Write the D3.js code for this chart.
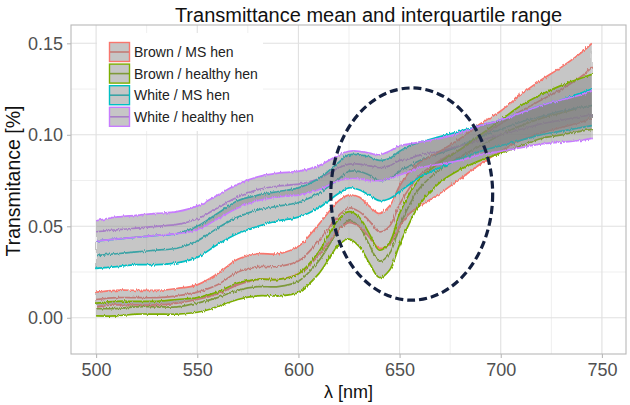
<!DOCTYPE html>
<html><head><meta charset="utf-8">
<script src="https://cdn.jsdelivr.net/npm/d3@7"></script>
<style>body{margin:0;background:#fff}svg{display:block;font-family:"Liberation Sans",Arial,sans-serif}</style>
</head><body><svg id="c" width="630" height="405"></svg>
<script>
// ---- data ----
const wavelength = [500,510,520,530,540,550,560,570,580,590,600,610,620,625,630,635,640,645,650,655,660,670,680,690,700,710,720,730,740,745];
const groups = ["Brown / MS hen","Brown / healthy hen","White / MS hen","White / healthy hen"];
const colors = ["#F8766D","#7CAE00","#00BFC4","#C77CFF"];

const brownMS_upper = [.014,.015,.015,.015,.016,.018,.024,.032,.035,.035,.039,.051,.064,.067,.066,.061,.057,.061,.072,.080,.085,.091,.098,.106,.113,.122,.130,.137,.145,.150];
const brownMS_mean  = [.010,.011,.011,.011,.012,.014,.018,.025,.028,.028,.031,.042,.056,.060,.058,.053,.047,.050,.062,.071,.078,.086,.092,.099,.106,.113,.119,.125,.132,.137];
const brownMS_lower = [.006,.007,.007,.007,.008,.010,.013,.018,.021,.021,.024,.034,.048,.052,.050,.044,.038,.040,.050,.057,.061,.068,.076,.084,.091,.097,.101,.104,.107,.109];

const brownH_upper = [.008,.009,.009,.009,.010,.011,.014,.019,.021,.021,.024,.036,.054,.058,.055,.046,.037,.041,.057,.068,.076,.085,.092,.100,.108,.116,.122,.127,.131,.133];
const brownH_mean  = [.005,.005,.006,.006,.006,.008,.011,.015,.017,.017,.020,.031,.048,.053,.050,.040,.031,.035,.050,.062,.071,.081,.088,.094,.100,.105,.109,.112,.115,.116];
const brownH_lower = [.001,.001,.002,.002,.002,.003,.006,.010,.012,.012,.014,.024,.040,.043,.039,.030,.022,.026,.040,.052,.062,.074,.081,.086,.090,.094,.098,.100,.102,.103];

const whiteMS_upper = [.042,.043,.044,.045,.046,.050,.057,.064,.067,.069,.071,.076,.085,.089,.089,.088,.086,.087,.091,.094,.096,.099,.102,.105,.108,.112,.116,.119,.123,.125];
const whiteMS_mean  = [.034,.035,.036,.037,.038,.042,.049,.055,.059,.061,.063,.068,.076,.080,.080,.078,.075,.076,.080,.083,.086,.090,.094,.099,.103,.107,.110,.113,.115,.116];
const whiteMS_lower = [.027,.028,.029,.029,.030,.033,.040,.046,.050,.053,.055,.060,.068,.071,.070,.067,.064,.065,.069,.073,.077,.082,.087,.091,.094,.097,.100,.102,.104,.105];

const whiteH_upper = [.053,.055,.056,.057,.058,.061,.067,.073,.077,.079,.080,.083,.089,.091,.091,.090,.089,.091,.094,.095,.096,.098,.101,.105,.108,.112,.116,.119,.122,.124];
const whiteH_mean  = [.047,.048,.049,.050,.051,.054,.060,.066,.070,.072,.073,.076,.082,.084,.084,.083,.082,.083,.086,.087,.089,.091,.094,.097,.100,.103,.106,.108,.110,.111];
const whiteH_lower = [.042,.043,.044,.045,.046,.048,.054,.060,.064,.066,.067,.070,.075,.076,.076,.075,.075,.076,.078,.080,.082,.084,.086,.089,.091,.093,.095,.096,.097,.098];

const xTicks = [500,550,600,650,700,750];
const xMinor = [525,575,625,675,725];
const yTicks = [0,0.05,0.10,0.15];
const yMinor = [0.025,0.075,0.125];
const highlight = {cx:656, cy:0.0676, rx:40, ry:0.058};

const series = [
  {lower:brownMS_lower, mean:brownMS_mean, upper:brownMS_upper},
  {lower:brownH_lower,  mean:brownH_mean,  upper:brownH_upper},
  {lower:whiteMS_lower, mean:whiteMS_mean, upper:whiteMS_upper},
  {lower:whiteH_lower,  mean:whiteH_mean,  upper:whiteH_upper}
];

// ---- layout ----
const svg = d3.select("#c");
const x = d3.scaleLinear().domain([487.6,761.9]).range([71,626]);
const y = d3.scaleLinear().domain([-0.0198,0.160]).range([354,25]);
const [X0,X1] = x.range(), [Y1,Y0] = y.range();

const defs = svg.append("defs");
defs.append("clipPath").attr("id","clip")
  .append("rect").attr("x",X0).attr("y",Y0).attr("width",X1-X0).attr("height",Y1-Y0);
// visual texture for the measured (noisy) spectra
const f = defs.append("filter").attr("id","rough").attr("x",0).attr("y",0).attr("width",630).attr("height",405)
  .attr("filterUnits","userSpaceOnUse");
f.append("feTurbulence").attr("type","fractalNoise").attr("baseFrequency","0.9 0.08").attr("numOctaves",2).attr("seed",3).attr("result","n");
f.append("feDisplacementMap").attr("in","SourceGraphic").attr("in2","n").attr("scale",3.2)
  .attr("xChannelSelector","R").attr("yChannelSelector","G");

// grid
const grid = svg.append("g");
grid.selectAll(".gxm").data(xMinor).join("line").attr("x1",d=>x(d)).attr("x2",d=>x(d)).attr("y1",Y0).attr("y2",Y1).attr("stroke","#efefef").attr("stroke-width",1);
grid.selectAll(".gym").data(yMinor).join("line").attr("y1",d=>y(d)).attr("y2",d=>y(d)).attr("x1",X0).attr("x2",X1).attr("stroke","#efefef").attr("stroke-width",1);
grid.selectAll(".gx").data(xTicks).join("line").attr("x1",d=>x(d)).attr("x2",d=>x(d)).attr("y1",Y0).attr("y2",Y1).attr("stroke","#e0e0e0").attr("stroke-width",1.1);
grid.selectAll(".gy").data(yTicks).join("line").attr("y1",d=>y(d)).attr("y2",d=>y(d)).attr("x1",X0).attr("x2",X1).attr("stroke","#e0e0e0").attr("stroke-width",1.1);

// data
const plot = svg.append("g").attr("clip-path","url(#clip)");
const inner = plot.append("g").attr("filter","url(#rough)");
const curve = d3.curveCatmullRom.alpha(0.5);
const line = d3.line().x((d,i)=>x(wavelength[i])).y(d=>y(d)).curve(curve);
const area = d3.area().x((d,i)=>x(wavelength[i])).y0(d=>y(d[0])).y1(d=>y(d[1])).curve(curve);

// mean lines first (under ribbons)
series.forEach((s,k)=>{
  inner.append("path").attr("d",line(s.mean)).attr("fill","none").attr("stroke",colors[k]).attr("stroke-width",1.7);
});
series.forEach((s,k)=>{
  const pairs = s.lower.map((v,i)=>[v,s.upper[i]]);
  inner.append("path").attr("d",area(pairs)).attr("fill","#808080").attr("fill-opacity",0.45).attr("stroke","none");
  inner.append("path").attr("d",line(s.upper)).attr("fill","none").attr("stroke",colors[k]).attr("stroke-width",1.7);
  inner.append("path").attr("d",line(s.lower)).attr("fill","none").attr("stroke",colors[k]).attr("stroke-width",1.7);
});

// legend (inside panel)
const lg = svg.append("g");
lg.append("rect").attr("x",97).attr("y",33).attr("width",166).attr("height",98).attr("fill","#fff");
groups.forEach((g,i)=>{
  const ky = 42 + i*21.6;
  lg.append("line").attr("x1",109).attr("x2",130).attr("y1",ky+10).attr("y2",ky+10).attr("stroke",colors[i]).attr("stroke-width",1.6);
  lg.append("rect").attr("x",109.5).attr("y",ky+0.5).attr("width",20).attr("height",19)
    .attr("fill","#808080").attr("fill-opacity",0.45).attr("stroke",colors[i]).attr("stroke-width",1.4);
  lg.append("text").attr("x",134).attr("y",ky+15).attr("font-size",14).attr("fill","#222").text(g);
});

// highlight ellipse
svg.append("ellipse").attr("cx",x(highlight.cx)).attr("cy",y(highlight.cy))
  .attr("rx",x(highlight.cx+highlight.rx)-x(highlight.cx)).attr("ry",y(highlight.cy-highlight.ry)-y(highlight.cy))
  .attr("fill","none").attr("stroke","#14203f").attr("stroke-width",3.2).attr("stroke-dasharray","8,4");

// panel border
svg.append("rect").attr("x",X0).attr("y",Y0).attr("width",X1-X0).attr("height",Y1-Y0)
  .attr("fill","none").attr("stroke","#b8b8b8").attr("stroke-width",1.1);

// axes
const xa = svg.append("g").attr("transform",`translate(0,${Y1})`)
  .call(d3.axisBottom(x).tickValues(xTicks).tickSize(4).tickPadding(5).tickFormat(d3.format("d")));
const ya = svg.append("g").attr("transform",`translate(${X0},0)`)
  .call(d3.axisLeft(y).tickValues(yTicks).tickSize(4).tickPadding(4).tickFormat(d3.format(".2f")));
[xa,ya].forEach(a=>{
  a.select(".domain").remove();
  a.selectAll(".tick line").attr("stroke","#b8b8b8").attr("stroke-width",1.1);
  a.selectAll(".tick text").attr("fill","#505050").attr("font-size",18).attr("font-family","Liberation Sans, Arial, sans-serif");
});

// titles
svg.append("text").attr("x",368.5).attr("y",22).attr("text-anchor","middle").attr("font-size",20).attr("fill","#111")
  .text("Transmittance mean and interquartile range");
svg.append("text").attr("x",(X0+X1)/2).attr("y",398).attr("text-anchor","middle").attr("font-size",18).attr("fill","#111")
  .text("λ  [nm]");
svg.append("text").attr("transform",`translate(20,181) rotate(-90)`).attr("text-anchor","middle").attr("font-size",19.5).attr("fill","#111")
  .text("Transmitance [%]");
</script></body></html>
